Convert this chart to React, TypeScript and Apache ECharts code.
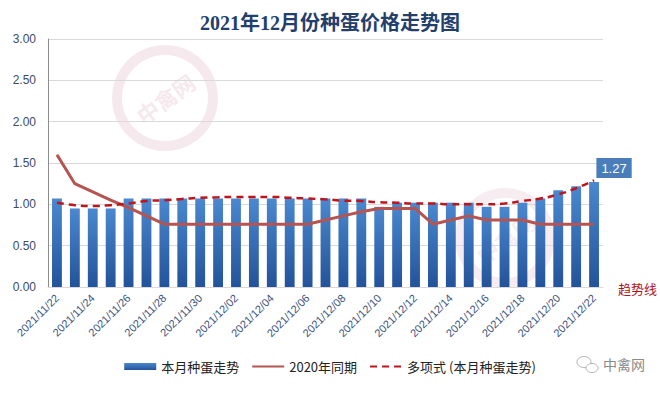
import React, { useEffect, useRef } from "react";
import * as echarts from "echarts";

const dates = [
  "2021/11/22", "2021/11/23", "2021/11/24", "2021/11/25", "2021/11/26", "2021/11/27",
  "2021/11/28", "2021/11/29", "2021/11/30", "2021/12/01", "2021/12/02", "2021/12/03",
  "2021/12/04", "2021/12/05", "2021/12/06", "2021/12/07", "2021/12/08", "2021/12/09",
  "2021/12/10", "2021/12/11", "2021/12/12", "2021/12/13", "2021/12/14", "2021/12/15",
  "2021/12/16", "2021/12/17", "2021/12/18", "2021/12/19", "2021/12/20", "2021/12/21",
  "2021/12/22",
];

const currentMonth = [
  1.07, 0.95, 0.95, 0.95, 1.07, 1.07, 1.07, 1.07, 1.07, 1.07, 1.07, 1.07, 1.07, 1.07,
  1.07, 1.07, 1.07, 1.07, 0.97, 1.02, 1.02, 1.02, 1.02, 1.02, 0.97, 0.97, 1.02, 1.07,
  1.17, 1.22, 1.27,
];

const lastYear = [
  1.6, 1.25, 1.15, 1.05, 0.96, 0.86, 0.76, 0.76, 0.76, 0.76, 0.76, 0.76, 0.76, 0.76,
  0.76, 0.81, 0.86, 0.91, 0.95, 0.95, 0.95, 0.76, 0.81, 0.86, 0.81, 0.81, 0.81, 0.76,
  0.76, 0.76, 0.76,
];

const trend = [
  1.02, 0.99, 0.98, 0.99, 1.01, 1.04, 1.05, 1.065, 1.08, 1.085, 1.09, 1.09, 1.09, 1.08,
  1.07, 1.06, 1.045, 1.04, 1.025, 1.02, 1.01, 1.01, 1.0, 1.0, 1.0, 1.01, 1.04, 1.07,
  1.12, 1.195, 1.29,
];

const seriesNames = ["本月种蛋走势", "2020年同期", "多项式 (本月种蛋走势)"];
const titleText = "2021年12月份种蛋价格走势图";

export default function App() {
  const ref = useRef<HTMLDivElement>(null);
  useEffect(() => {
    if (!ref.current) return;
    const chart = echarts.init(ref.current, undefined, { renderer: "svg" });
    const barData = currentMonth.map((v, i) =>
      i === currentMonth.length - 1
        ? {
            value: v,
            label: {
              show: true,
              position: "top",
              distance: 4,
              offset: [20, 0],
              formatter: (p: any) => Number(p.value).toFixed(2),
              backgroundColor: "#4a7ebb",
              color: "#ffffff",
              padding: [4, 5, 3, 5],
              fontSize: 13,
              fontFamily: "Liberation Sans, Arial, sans-serif",
            },
          }
        : v
    );
    chart.setOption({
      animation: false,
      backgroundColor: "#ffffff",
      title: {
        text: titleText,
        left: "center",
        top: 8,
        textStyle: {
          fontSize: 20,
          fontWeight: "bold",
          color: "#23406c",
          fontFamily: '"Liberation Serif", "Noto Sans CJK SC", serif',
        },
      },
      grid: { left: 48, right: 57, top: 39, bottom: 106, containLabel: false },
      legend: {
        bottom: 15,
        left: "center",
        itemGap: 12,
        itemWidth: 32,
        itemHeight: 7,
        textStyle: { fontSize: 13, color: "#222", fontFamily: '"Noto Sans CJK SC", sans-serif' },
        data: [
          { name: seriesNames[0], icon: "rect" },
          { name: seriesNames[1], itemStyle: { opacity: 0 } },
          { name: seriesNames[2], itemStyle: { opacity: 0 } },
        ],
      },
      xAxis: {
        type: "category",
        data: dates,
        axisTick: { show: false },
        axisLine: { lineStyle: { color: "#d9d9d9" } },
        axisLabel: {
          interval: 1,
          rotate: 45,
          fontSize: 11,
          color: "#3a527c",
          margin: 9,
          fontFamily: '"Liberation Sans", Arial, sans-serif',
        },
      },
      yAxis: {
        type: "value",
        min: 0,
        max: 3,
        interval: 0.5,
        axisLine: { show: true, lineStyle: { color: "#8c8c8c" } },
        axisTick: { show: false },
        splitLine: { lineStyle: { color: "#d9d9d9" } },
        axisLabel: {
          formatter: (v: number) => v.toFixed(2),
          fontSize: 12,
          color: "#3d4b63",
          margin: 12,
          fontFamily: '"Liberation Sans", Arial, sans-serif',
        },
      },
      series: [
        {
          name: seriesNames[0],
          type: "bar",
          barWidth: "55%",
          data: barData,
          itemStyle: {
            color: new echarts.graphic.LinearGradient(0, 0, 0, 1, [
              { offset: 0, color: "#4a88cf" },
              { offset: 1, color: "#23539a" },
            ]),
          },
          z: 2,
        },
        {
          name: seriesNames[1],
          type: "line",
          data: lastYear,
          symbol: "none",
          lineStyle: { color: "#b55450", width: 3 },
          itemStyle: { color: "#b55450" },
          z: 3,
        },
        {
          name: seriesNames[2],
          type: "line",
          data: trend,
          symbol: "none",
          smooth: true,
          lineStyle: { color: "#c0141c", width: 2.5, type: [7, 5] },
          itemStyle: { color: "#c0141c" },
          z: 4,
        },
      ],
      graphic: [
        {
          type: "circle",
          shape: { cx: 165, cy: 98, r: 48 },
          style: { fill: "none", stroke: "rgba(200,120,150,0.16)", lineWidth: 10 },
          silent: true,
          z: -1,
        },
        {
          type: "text",
          x: 165,
          y: 98,
          rotation: Math.PI / 5,
          style: {
            text: "中禽网",
            fontSize: 22,
            fontWeight: "bold",
            fill: "rgba(200,120,150,0.18)",
            align: "center",
            verticalAlign: "middle",
            fontFamily: '"Noto Sans CJK SC", sans-serif',
          },
          silent: true,
          z: -1,
        },
        {
          type: "circle",
          shape: { cx: 505, cy: 238, r: 45 },
          style: { fill: "none", stroke: "rgba(200,120,150,0.14)", lineWidth: 10 },
          silent: true,
          z: -1,
        },
        {
          type: "text",
          x: 505,
          y: 238,
          rotation: Math.PI / 5,
          style: {
            text: "中禽网",
            fontSize: 22,
            fontWeight: "bold",
            fill: "rgba(200,120,150,0.15)",
            align: "center",
            verticalAlign: "middle",
            fontFamily: '"Noto Sans CJK SC", sans-serif',
          },
          silent: true,
          z: -1,
        },
        {
          type: "text",
          x: 618,
          y: 282,
          style: {
            text: "趋势线",
            fontSize: 13,
            fill: "#b0121b",
            fontFamily: '"Noto Sans CJK SC", sans-serif',
          },
        },
        {
          type: "ellipse",
          shape: { cx: 584, cy: 362, rx: 7, ry: 5.5 },
          style: { fill: "none", stroke: "#b5b5b5", lineWidth: 1 },
        },
        {
          type: "ellipse",
          shape: { cx: 592, cy: 368, rx: 6, ry: 4.5 },
          style: { fill: "#fff", stroke: "#b5b5b5", lineWidth: 1 },
        },
        {
          type: "text",
          x: 603,
          y: 357,
          style: {
            text: "中禽网",
            fontSize: 14,
            fill: "#8a8a8a",
            fontFamily: '"Noto Sans CJK SC", sans-serif',
          },
        },
      ],
    });
    return () => chart.dispose();
  }, []);
  return <div ref={ref} style={{ width: 660, height: 393, position: "absolute", left: 0, top: 0 }} />;
}
